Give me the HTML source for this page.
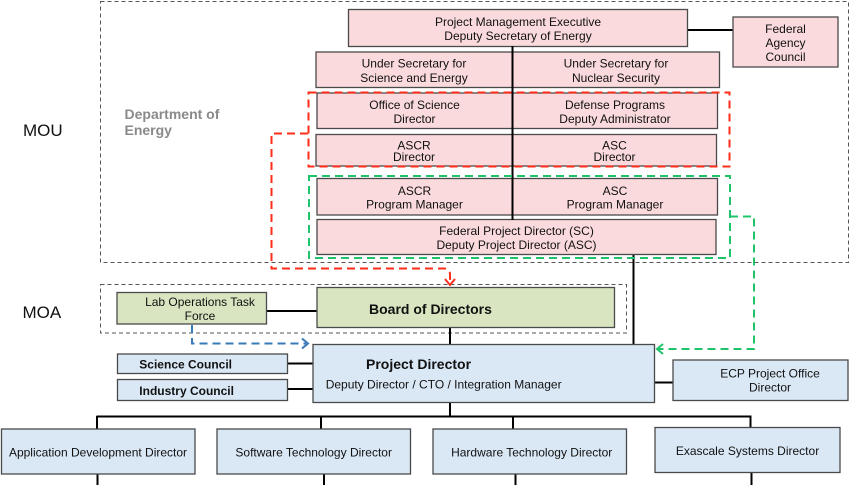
<!DOCTYPE html>
<html>
<head>
<meta charset="utf-8">
<style>
  html, body { margin: 0; padding: 0; background: #ffffff; }
  body { width: 850px; height: 485px; overflow: hidden; }
  svg { display: block; }
  text { font-family: "Liberation Sans", Arial, sans-serif; fill: #111; }
</style>
</head>
<body>
<svg width="850" height="485" viewBox="0 0 850 485" xmlns="http://www.w3.org/2000/svg">
  <!-- Outer dashed group boxes -->
  <rect x="100.5" y="1.5" width="748" height="261" fill="none" stroke="#555" stroke-width="1" stroke-dasharray="4,3"/>
  <rect x="100.5" y="284.5" width="526" height="48.5" fill="none" stroke="#555" stroke-width="1" stroke-dasharray="4,3"/>

  <!-- Black connector lines -->
  <g stroke="#000" stroke-width="2" fill="none">
    <line x1="512.5" y1="46" x2="512.5" y2="220"/>
    <line x1="687.5" y1="30" x2="733" y2="30"/>
    <line x1="266.5" y1="311" x2="317" y2="311"/>
    <line x1="450" y1="327.5" x2="450" y2="345"/>
    <line x1="633.5" y1="254.5" x2="633.5" y2="345"/>
    <line x1="287.5" y1="363.5" x2="313" y2="363.5"/>
    <line x1="287.5" y1="389" x2="313" y2="389"/>
    <line x1="654.5" y1="382.5" x2="673" y2="382.5"/>
    <line x1="450" y1="402.5" x2="450" y2="416.5"/>
    <line x1="96.5" y1="416.5" x2="751.5" y2="416.5"/>
    <line x1="97" y1="416" x2="97" y2="429"/>
    <line x1="321" y1="416" x2="321" y2="429"/>
    <line x1="513" y1="416" x2="513" y2="429"/>
    <line x1="750.5" y1="416" x2="750.5" y2="428"/>
    <line x1="97.5" y1="474" x2="97.5" y2="485"/>
    <line x1="324" y1="474" x2="324" y2="485"/>
    <line x1="515.5" y1="474" x2="515.5" y2="485"/>
    <line x1="751.5" y1="472" x2="751.5" y2="485"/>
  </g>

  <!-- Pink DOE boxes -->
  <g fill="#fadadc" stroke="#4a4a4a" stroke-width="1.3">
    <rect x="348.5" y="9.5" width="339" height="37"/>
    <rect x="733" y="17" width="105" height="50"/>
    <rect x="316" y="52" width="196.5" height="35.5"/>
    <rect x="512.5" y="52" width="207" height="35.5"/>
    <rect x="317" y="93" width="195.5" height="35.5"/>
    <rect x="512.5" y="93" width="205" height="35.5"/>
    <rect x="316" y="134.5" width="196.5" height="31.5"/>
    <rect x="512.5" y="134.5" width="204" height="31.5"/>
    <rect x="317" y="178.5" width="195.5" height="36.5"/>
    <rect x="512.5" y="178.5" width="205" height="36.5"/>
    <rect x="317" y="219.5" width="399" height="35"/>
  </g>
  <line x1="512.5" y1="46" x2="512.5" y2="220" stroke="#000" stroke-width="2"/>

  <!-- Green boxes -->
  <g fill="#d8e5c0" stroke="#4a4a4a" stroke-width="1.3">
    <rect x="117" y="292.5" width="149.5" height="31.5"/>
    <rect x="317" y="287.5" width="297.5" height="40"/>
  </g>

  <!-- Blue boxes -->
  <g fill="#dae8f6" stroke="#4a4a4a" stroke-width="1.3">
    <rect x="313" y="344.5" width="341.5" height="58"/>
    <rect x="117.5" y="354" width="170" height="19.5"/>
    <rect x="117.5" y="379.5" width="170" height="21"/>
    <rect x="673" y="360" width="175" height="40.5"/>
    <rect x="1.5" y="429" width="193.5" height="45"/>
    <rect x="217" y="429" width="193.5" height="45"/>
    <rect x="433" y="429" width="193.5" height="45"/>
    <rect x="655" y="427.5" width="185" height="45"/>
  </g>

  <!-- Red dashed group & connector -->
  <g stroke="#ff2d1a" stroke-width="2" fill="none" stroke-dasharray="8,5">
    <rect x="308.5" y="92.5" width="421" height="74"/>
    <path d="M308,133.5 H271.5 V268.5 H444 Q450,268.5 450,274.5 V284"/>
  </g>
  <path d="M445,279 L450,285 L455,279" stroke="#ff2d1a" stroke-width="2" fill="none"/>

  <!-- Green dashed group & connector -->
  <g stroke="#1fc46a" stroke-width="2" fill="none" stroke-dasharray="8,5">
    <rect x="309" y="176" width="421" height="82"/>
    <path d="M730,216.5 H754 V349 H658"/>
  </g>
  <path d="M663,344 L657,349 L663,354" stroke="#1fc46a" stroke-width="2" fill="none"/>

  <!-- Blue dashed connector -->
  <path d="M192,325 V343.5 H306" stroke="#3a7ab8" stroke-width="2" fill="none" stroke-dasharray="8,5"/>
  <path d="M302,338.5 L308,343.5 L302,348.5" stroke="#3a7ab8" stroke-width="2" fill="none"/>

  <!-- Side labels -->
  <text x="23" y="136" font-size="17">MOU</text>
  <text x="22.5" y="318" font-size="17">MOA</text>
  <text x="124.5" y="119" font-size="14" font-weight="bold" style="fill:#8a8a8a">Department of</text>
  <text x="124.5" y="135" font-size="14" font-weight="bold" style="fill:#8a8a8a">Energy</text>

  <!-- Pink box text -->
  <g font-size="12" text-anchor="middle">
    <text x="518" y="26">Project Management Executive</text>
    <text x="518" y="40">Deputy Secretary of Energy</text>
    <text x="785.5" y="33">Federal</text>
    <text x="785.5" y="47">Agency</text>
    <text x="785.5" y="61">Council</text>
    <text x="414" y="67.5">Under Secretary for</text>
    <text x="414" y="82">Science and Energy</text>
    <text x="616" y="67.5">Under Secretary for</text>
    <text x="616" y="82">Nuclear Security</text>
    <text x="414.5" y="109">Office of Science</text>
    <text x="414.5" y="123">Director</text>
    <text x="615" y="109">Defense Programs</text>
    <text x="615" y="123">Deputy Administrator</text>
    <text x="414" y="149.5">ASCR</text>
    <text x="414" y="161">Director</text>
    <text x="614.5" y="149.5">ASC</text>
    <text x="614.5" y="161">Director</text>
    <text x="414.5" y="195">ASCR</text>
    <text x="414.5" y="208.5">Program Manager</text>
    <text x="615" y="195">ASC</text>
    <text x="615" y="208.5">Program Manager</text>
    <text x="516.5" y="235">Federal Project Director (SC)</text>
    <text x="516.5" y="249">Deputy Project Director (ASC)</text>
    <text x="200" y="306">Lab Operations Task</text>
    <text x="200" y="320">Force</text>
    <text x="770" y="377.5">ECP Project Office</text>
    <text x="770" y="391.5">Director</text>
    <text x="98" y="456.5">Application Development Director</text>
    <text x="313.7" y="456.5">Software Technology Director</text>
    <text x="531.7" y="456.5">Hardware Technology Director</text>
    <text x="747.5" y="455">Exascale Systems Director</text>
  </g>

  <!-- Bold texts -->
  <text x="369" y="314" font-size="14" font-weight="bold">Board of Directors</text>
  <text x="366" y="369" font-size="14" font-weight="bold">Project Director</text>
  <text x="325.7" y="388.5" font-size="12">Deputy Director / CTO / Integration Manager</text>
  <text x="139.3" y="368.5" font-size="12" font-weight="bold">Science Council</text>
  <text x="139.3" y="395" font-size="12" font-weight="bold">Industry Council</text>
</svg>
</body>
</html>
